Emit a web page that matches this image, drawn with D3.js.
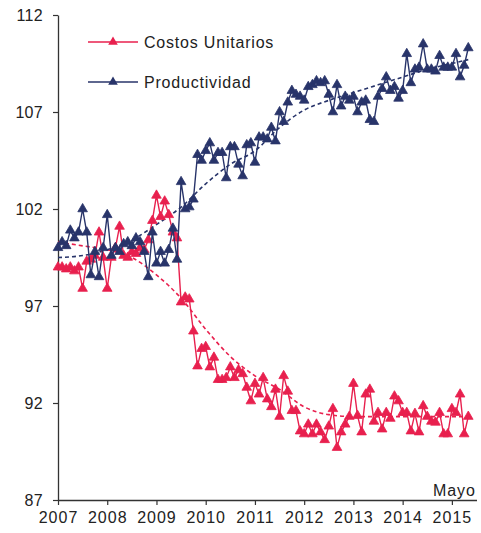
<!DOCTYPE html>
<html>
<head>
<meta charset="utf-8">
<script src="https://cdn.jsdelivr.net/npm/d3@7"></script>
<style>
  html, body { margin: 0; padding: 0; background: #fff; }
  svg { display: block; font-family: "Liberation Sans", Arial, sans-serif; }
</style>
</head>
<body>
<div id="chart"></div>
<script>
// monthly series, Jan 2007 - May 2015
var startYear = 2007;

var costos = [
  99.0, 99.0, 98.9, 99.0, 98.8, 99.0, 97.9, 99.3, 99.4, 99.6, 100.8, 99.5,
  97.9, 99.5, 100.0, 101.1, 99.6, 99.5, 99.8, 99.7, 100.0, 99.9, 100.4, 101.4,
  102.7, 101.6, 102.4, 101.7, 100.8, 100.5, 97.2, 97.45, 97.35, 95.7, 93.9, 94.8,
  94.9, 93.85, 94.35, 93.2, 93.2, 93.3, 93.85, 93.3, 93.7, 93.5, 92.8, 92.1,
  93.0, 92.45, 93.3, 92.2, 91.8, 92.7, 91.3, 93.4, 92.6, 91.6, 91.6, 90.55,
  90.4, 90.9, 90.4, 90.9, 90.5, 90.1, 90.8, 91.7, 89.7, 90.5, 90.9, 91.3,
  93.0, 91.35, 90.5, 92.45, 92.7, 91.05, 91.5, 90.65, 91.5, 91.2, 92.35, 92.1,
  91.5, 91.5, 90.55, 91.45, 90.5, 91.85, 91.3, 91.05, 91.0, 91.5, 90.4, 90.4,
  91.7, 91.5, 92.45, 90.4, 91.3
];

var productividad = [
  100.0, 100.3, 100.1, 100.9, 100.5, 100.8, 102.0, 100.8, 98.6, 99.8, 98.5, 100.0,
  101.7, 99.6, 100.0, 99.8, 100.2, 100.3, 100.1, 100.5, 100.3, 99.8, 98.5, 100.8,
  99.2, 99.8, 99.2, 99.9, 101.0, 99.4, 103.4, 102.0, 102.1, 102.5, 104.8, 104.5,
  105.0, 105.4, 104.5, 104.9, 104.9, 103.6, 105.2, 105.2, 104.3, 103.7, 105.3, 105.4,
  104.4, 105.7, 105.7, 105.6, 106.2, 105.5, 107.0, 106.5, 107.5, 108.1, 107.9, 107.8,
  107.6, 108.3, 108.4, 108.6, 108.5, 108.6, 107.9, 107.0, 108.4, 107.3, 107.8, 107.6,
  107.8, 107.0, 107.5, 107.6, 106.6, 106.5, 107.8, 108.2, 108.8, 108.1, 108.3, 107.7,
  108.1, 110.0, 108.5, 109.2, 109.3, 110.5, 109.2, 109.2, 109.1, 109.9, 109.3, 109.3,
  109.3, 110.0, 108.8, 109.4, 110.3
];

// dashed trend lines, read every half year
var trendYears = [2007, 2007.5, 2008, 2008.5, 2009, 2009.5, 2010, 2010.5, 2011, 2011.5,
                  2012, 2012.5, 2013, 2013.5, 2014, 2014.5, 2015, 2015.333];
var trendCostos = [100.3, 100.1, 99.9, 99.5, 98.6, 97.4, 95.8, 94.4, 93.4, 92.7,
                   91.8, 91.4, 91.3, 91.3, 91.3, 91.3, 91.3, 91.3];
var trendProductividad = [99.5, 99.6, 99.9, 100.4, 101.2, 102.1, 103.3, 104.3, 105.0, 106.2,
                          107.1, 107.6, 108.0, 108.4, 108.8, 109.2, 109.5, 109.7];

var yearTicks = [2007, 2008, 2009, 2010, 2011, 2012, 2013, 2014, 2015];
var valueTicks = [87, 92, 97, 102, 107, 112];

var seriesNames = ["Costos Unitarios", "Productividad"];
var colors = ["#e8204e", "#28346a"];

var width = 481, height = 533;

var svg = d3.select("#chart").append("svg")
    .attr("width", width)
    .attr("height", height);

var x = d3.scaleLinear().domain([2007, 2015.5]).range([58, 476.5]);
var y = d3.scaleLinear().domain([87, 112]).range([500, 15]);

// axes
var yAxis = d3.axisLeft(y).tickValues(valueTicks).tickSize(5).tickSizeOuter(0);
var xAxis = d3.axisBottom(x).tickValues(yearTicks).tickSize(5).tickSizeOuter(0)
    .tickFormat(d3.format("d"));

var gy = svg.append("g").attr("transform", "translate(58,0)").call(yAxis);
var gx = svg.append("g").attr("transform", "translate(0,500)").call(xAxis);

[gx, gy].forEach(function(g) {
  g.select(".domain").attr("stroke", "#333").attr("stroke-width", 1.3);
  g.selectAll(".tick line").attr("stroke", "#333").attr("stroke-width", 1.2);
  g.selectAll(".tick text")
      .attr("fill", "#222")
      .style("font-size", "16px")
      .style("font-family", "'Liberation Sans', Arial, sans-serif");
});
gy.selectAll(".tick text").attr("x", -15).style("letter-spacing", "0.3px");
gx.selectAll(".tick text").attr("y", 12).style("letter-spacing", "1px");

svg.append("text")
    .attr("x", 476)
    .attr("y", 496)
    .attr("text-anchor", "end")
    .attr("fill", "#222")
    .style("font-size", "16px")
    .style("letter-spacing", "1px")
    .text("Mayo");

function monthX(d, i) { return x(startYear + i / 12); }

var triangle = d3.symbol().type(d3.symbolTriangle).size(40);

// trend lines
var trendLine = d3.line()
    .curve(d3.curveMonotoneX)
    .x(function(d, i) { return x(trendYears[i]); })
    .y(function(d) { return y(d); });

svg.append("path")
    .attr("d", trendLine(trendCostos))
    .attr("fill", "none")
    .attr("stroke", colors[0])
    .attr("stroke-width", 1.6)
    .attr("stroke-dasharray", "4,3");

svg.append("path")
    .attr("d", trendLine(trendProductividad))
    .attr("fill", "none")
    .attr("stroke", colors[1])
    .attr("stroke-width", 1.6)
    .attr("stroke-dasharray", "4,3");

// series
var line = d3.line()
    .x(monthX)
    .y(function(d) { return y(d); });

[costos, productividad].forEach(function(values, k) {
  var g = svg.append("g").attr("class", "series");
  g.append("path")
      .attr("d", line(values))
      .attr("fill", "none")
      .attr("stroke", colors[k])
      .attr("stroke-width", 1.4);
  g.selectAll("path.marker")
      .data(values)
    .enter().append("path")
      .attr("class", "marker")
      .attr("d", triangle)
      .attr("transform", function(d, i) { return "translate(" + monthX(d, i) + "," + y(d) + ")"; })
      .attr("fill", colors[k])
      .attr("stroke", colors[k])
      .attr("stroke-width", 0.8);
});

// legend
var legend = svg.append("g").attr("transform", "translate(88,42)");
var legendItem = legend.selectAll(".legend-item")
    .data(seriesNames)
  .enter().append("g")
    .attr("class", "legend-item")
    .attr("transform", function(d, i) { return "translate(0," + i * 40 + ")"; });

legendItem.append("line")
    .attr("x1", 0).attr("x2", 50)
    .attr("stroke", function(d, i) { return colors[i]; })
    .attr("stroke-width", 1.4);

legendItem.append("path")
    .attr("d", triangle)
    .attr("transform", "translate(25,0)")
    .attr("fill", function(d, i) { return colors[i]; });

legendItem.append("text")
    .attr("x", 56)
    .attr("dy", "0.35em")
    .attr("fill", "#222")
    .style("font-size", "16px")
    .style("letter-spacing", "0.8px")
    .text(function(d) { return d; });
</script>
</body>
</html>
